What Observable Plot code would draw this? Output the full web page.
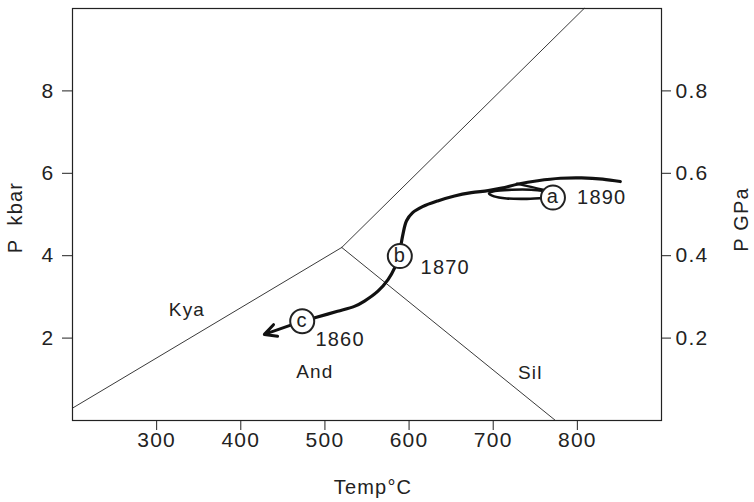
<!DOCTYPE html>
<html>
<head>
<meta charset="utf-8">
<script src="https://cdn.jsdelivr.net/npm/d3@7"></script>
<script src="https://cdn.jsdelivr.net/npm/@observablehq/plot@0.6"></script>
<style>
  html, body { margin: 0; padding: 0; background: #fff; }
  svg text { letter-spacing: 0.06em; }
</style>
</head>
<body>
<div id="chart"></div>
<script>
// Tick values / labels
const kbarTicks = [2, 4, 6, 8];
const gpaLabels = ["0.2", "0.4", "0.6", "0.8"];
const tempTicks = [300, 400, 500, 600, 700, 800];

// Phase boundaries (Temp °C, P kbar)
const kyaAndT = [200, 520];
const kyaAndP = [0.3, 4.2];
const kyaSilT = [520, 808];
const kyaSilP = [4.2, 10];
const andSilT = [520, 774];
const andSilP = [4.2, 0];

// P–T path (from high-T end toward c)
const pathT = [851, 830, 805, 780, 753, 730, 710, 694, 674, 654, 634, 616, 604, 597, 593, 590, 588, 583, 575, 563, 547, 535, 515, 489, 473];
const pathP = [5.80, 5.86, 5.89, 5.88, 5.82, 5.74, 5.64, 5.58, 5.53, 5.45, 5.33, 5.19, 5.04, 4.85, 4.55, 4.22, 4.00, 3.71, 3.42, 3.14, 2.90, 2.77, 2.65, 2.50, 2.41];

// loop near a
const loopT = [762, 740, 716, 701, 695, 702, 722, 745, 763];
const loopP = [5.40, 5.38, 5.39, 5.44, 5.51, 5.57, 5.60, 5.60, 5.56];
const branchT = [728, 745, 762];
const branchP = [5.75, 5.67, 5.59];

// arrow end of path
const arrowFromT = 473, arrowFromP = 2.41;
const arrowToT = 428, arrowToP = 2.09;

// stations
const stations = ["a", "b", "c"];
const stationT = [771, 589, 473];
const stationP = [5.41, 3.99, 2.41];
const years = ["1890", "1870", "1860"];
const yearT = [829, 643, 518];
const yearP = [5.41, 3.71, 1.97];

// field labels
const fields = ["Kya", "And", "Sil"];
const fieldT = [336, 488, 744];
const fieldP = [2.69, 1.19, 1.16];

const toRows = (T, P, extra = {}) => T.map((t, i) => ({T: t, P: P[i], ...extra}));
const boundaries = [
  ...toRows(kyaAndT, kyaAndP, {z: "ka"}),
  ...toRows(kyaSilT, kyaSilP, {z: "ks"}),
  ...toRows(andSilT, andSilP, {z: "as"})
];
const pathRows = toRows(pathT, pathP);
const loopRows = toRows(loopT, loopP);
const branchRows = toRows(branchT, branchP);
const stationRows = stations.map((s, i) => ({s, T: stationT[i], P: stationP[i]}));
const yearRows = years.map((s, i) => ({s, T: yearT[i], P: yearP[i]}));
const fieldRows = fields.map((s, i) => ({s, T: fieldT[i], P: fieldP[i]}));

const ink = "#222";
const thin = "#3a3a3a";

const chart = Plot.plot({
  width: 754,
  height: 502,
  marginLeft: 72,
  marginRight: 93,
  marginTop: 8,
  marginBottom: 82,
  style: {fontFamily: "'Liberation Sans', Arial, Helvetica, sans-serif", fontSize: "20px", color: ink, background: "#fff"},
  x: {domain: [200, 900]},
  y: {domain: [0, 10]},
  marks: [
    Plot.line(boundaries, {x: "T", y: "P", z: "z", stroke: thin, strokeWidth: 1}),
    Plot.line(pathRows, {x: "T", y: "P", curve: "catmull-rom", stroke: "#111", strokeWidth: 3.2, strokeLinecap: "round", strokeLinejoin: "round"}),
    Plot.line(loopRows, {x: "T", y: "P", curve: "catmull-rom", stroke: "#111", strokeWidth: 2.6, strokeLinecap: "round"}),
    Plot.line(branchRows, {x: "T", y: "P", curve: "catmull-rom", stroke: "#111", strokeWidth: 2.2, strokeLinecap: "round"}),
    Plot.arrow([{x1: arrowFromT, y1: arrowFromP, x2: arrowToT, y2: arrowToP}], {
      x1: "x1", y1: "y1", x2: "x2", y2: "y2", bend: 0, headLength: 16, headAngle: 55,
      stroke: "#111", strokeWidth: 3
    }),
    Plot.dot(stationRows, {x: "T", y: "P", r: 12, fill: "white", stroke: ink, strokeWidth: 2}),
    Plot.text(stationRows, {x: "T", y: "P", text: "s", fontSize: 20, fill: ink, dy: -1}),
    Plot.text(yearRows, {x: "T", y: "P", text: "s", fontSize: 20, fill: ink}),
    Plot.text(fieldRows, {x: "T", y: "P", text: "s", fontSize: 19, fill: ink}),
    Plot.frame({stroke: ink, strokeWidth: 1.2}),
    Plot.axisX({ticks: tempTicks, tickSize: 10, tickPadding: 2, label: null, fontSize: 21, stroke: ink, fill: ink}),
    Plot.axisY({anchor: "left", ticks: kbarTicks, tickSize: 10, tickPadding: 8, label: null, fontSize: 21, stroke: ink, fill: ink}),
    Plot.axisY({anchor: "right", ticks: kbarTicks, tickFormat: d => gpaLabels[kbarTicks.indexOf(d)], tickSize: 9, tickPadding: 5, label: null, fontSize: 21, stroke: ink, fill: ink}),
    Plot.text(["P  kbar"], {frameAnchor: "left", textAnchor: "middle", lineAnchor: "middle", dx: -57, dy: 3, rotate: -90, fontSize: 20, fill: ink}),
    Plot.text(["P GPa"], {frameAnchor: "right", textAnchor: "middle", lineAnchor: "middle", dx: 80, dy: 5, rotate: -90, fontSize: 20, fill: ink}),
    Plot.text(["Temp°C"], {frameAnchor: "bottom", textAnchor: "middle", lineAnchor: "middle", dx: 6, dy: 67, fontSize: 20, fill: ink})
  ]
});
document.getElementById("chart").appendChild(chart);
</script>
</body>
</html>
